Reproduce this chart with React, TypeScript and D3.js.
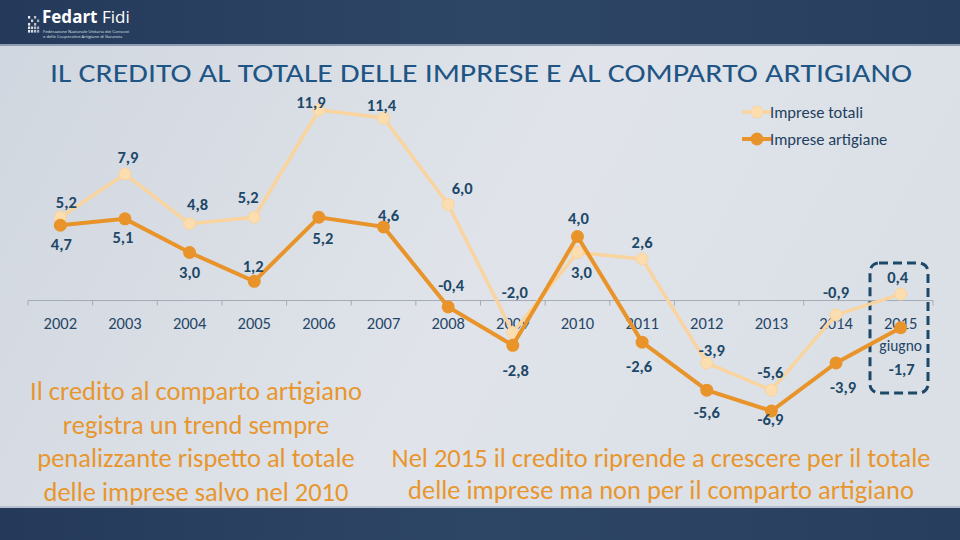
import React from "react";
import * as d3 from "d3";

const years = ["2002","2003","2004","2005","2006","2007","2008","2009","2010","2011","2012","2013","2014","2015"];
const totali = [5.2, 7.9, 4.8, 5.2, 11.9, 11.4, 6.0, -2.0, 3.0, 2.6, -3.9, -5.6, -0.9, 0.4];
const artigiane = [4.7, 5.1, 3.0, 1.2, 5.2, 4.6, -0.4, -2.8, 4.0, -2.6, -5.6, -6.9, -3.9, -1.7];
const seriesNames = ["Imprese totali", "Imprese artigiane"];
const title = "IL CREDITO AL TOTALE DELLE IMPRESE E AL COMPARTO ARTIGIANO";
const leftNote = ["Il credito al comparto artigiano", "registra un trend sempre", "penalizzante rispetto al totale", "delle imprese salvo nel 2010"];
const rightNote = ["Nel 2015 il credito riprende a crescere per il totale", "delle imprese ma non per il comparto artigiano"];

// label placement offsets (dx, dy) relative to the point
const totOff = [[6,-15],[3,-17],[8,-20],[-6,-20],[-8,-8],[-2,-13],[14,-16],[2,-41],[4,20],[0,-17],[5,-13],[-1,-18],[0,-23],[-3,-17]];
const artOff = [[1,19],[-2,18],[0,20],[-1,-15],[4,21],[5,-12],[3,-22],[3,25],[1,-18],[-3,24],[0,22],[-1,8],[7,24],[1,41]];

const W = 960, H = 540;
const FONT = "Carlito, Lato, 'Open Sans', sans-serif";
const LIGHT = "#F9D49E";
const LIGHT_IN = "#FBDDB0";
const ORANGE = "#E8942A";
const LABEL = "#1D4868";

const fmt = (v: number) => v.toFixed(1).replace(".", ",");

export default function App() {
  const x = d3.scalePoint<string>().domain(years).range([28, 933]).padding(0.5);
  const y = d3.scaleLinear().domain([-6.9, 11.9]).range([411, 110]);
  const step = x.step();
  const line = d3.line<number>().x((_, i) => x(years[i]) as number).y((d) => y(d));
  const y0 = y(0);
  const bounds = d3.range(years.length + 1).map((i) => 28 + i * step);

  return (
    <svg width={W} height={H} style={{ position: "absolute", left: 0, top: 0 }} fontFamily={FONT}>
      <defs>
        <linearGradient id="bg" x1="0" y1="0" x2="1" y2="0.3">
          <stop offset="0" stopColor="#D0D6DF" />
          <stop offset="0.6" stopColor="#E0E4EA" />
          <stop offset="1" stopColor="#DBE0E7" />
        </linearGradient>
        <linearGradient id="band" x1="0" y1="0" x2="1" y2="0">
          <stop offset="0" stopColor="#253A5A" />
          <stop offset="0.5" stopColor="#2E4666" />
          <stop offset="1" stopColor="#283E5E" />
        </linearGradient>
      </defs>
      <rect width={W} height={H} fill="url(#bg)" />
      {/* header */}
      <rect x={0} y={0} width={W} height={44} fill="url(#band)" />
      <rect x={0} y={44} width={W} height={2} fill="#8E9BB0" />
      <g fill="#FFFFFF">
        {d3.range(5).map((r) => d3.range(4).map((c) => (
          (r + c) % 2 === 0 || r > 2 ? <rect key={`${r}-${c}`} x={28 + c * 3} y={16 + r * 3.5} width={2.2} height={2.6} opacity={0.9 - c * 0.1} /> : null
        )))}
      </g>
      <text x={42} y={23} fill="#FFFFFF" fontSize={17} fontWeight="bold" fontFamily="'Open Sans', sans-serif">Fedart <tspan fontWeight="normal">Fidi</tspan></text>
      <text x={43} y={32.5} fill="#DDE3EC" fontSize={4.2} fontFamily="'Open Sans', sans-serif">Federazione Nazionale Unitaria dei Consorzi</text>
      <text x={43} y={37.5} fill="#DDE3EC" fontSize={4.2} fontFamily="'Open Sans', sans-serif">e delle Cooperative Artigiane di Garanzia</text>
      {/* footer */}
      <rect x={0} y={508} width={W} height={32} fill="url(#band)" />
      <rect x={0} y={506} width={W} height={2} fill="#B7C0CE" />

      {/* title */}
      <text x={50} y={82} fill="#1F5585" fontSize={27} textLength={862} lengthAdjust="spacingAndGlyphs">{title}</text>

      {/* axis */}
      <line x1={28} x2={933} y1={y0} y2={y0} stroke="#A3ABB6" strokeWidth={1} />
      {bounds.map((b, i) => (
        <line key={i} x1={b} x2={b} y1={y0} y2={y0 + 5} stroke="#A3ABB6" strokeWidth={1} />
      ))}
      {years.map((yr) => (
        <text key={yr} x={x(yr)} y={y0 + 28} textAnchor="middle" fill="#264668" fontSize={16.5}>{yr}</text>
      ))}
      <text x={x("2015")} y={y0 + 50} textAnchor="middle" fill="#264668" fontSize={15.5}>giugno</text>

      {/* dashed box */}
      <rect x={870} y={263} width={58} height={130} rx={9} fill="none" stroke="#1D4868" strokeWidth={3} strokeDasharray="9,5" />

      {/* totali line */}
      <path d={line(totali) as string} fill="none" stroke={LIGHT} strokeWidth={3.5} />
      {totali.map((v, i) => (
        <circle key={i} cx={x(years[i])} cy={y(v)} r={6} fill={LIGHT_IN} stroke={LIGHT} strokeWidth={1} />
      ))}
      {/* artigiane line */}
      <path d={line(artigiane) as string} fill="none" stroke={ORANGE} strokeWidth={4} />
      {artigiane.map((v, i) => (
        <circle key={i} cx={x(years[i])} cy={y(v)} r={6.5} fill={ORANGE} />
      ))}

      {/* labels */}
      {totali.map((v, i) => (
        <text key={"t" + i} x={(x(years[i]) as number) + totOff[i][0]} y={y(v) + totOff[i][1] + 6} textAnchor="middle" fill={LABEL} fontSize={16.5} fontWeight="bold">{fmt(v)}</text>
      ))}
      {artigiane.map((v, i) => (
        <text key={"a" + i} x={(x(years[i]) as number) + artOff[i][0]} y={y(v) + artOff[i][1] + 6} textAnchor="middle" fill={LABEL} fontSize={16.5} fontWeight="bold">{fmt(v)}</text>
      ))}

      {/* legend */}
      <g>
        <line x1={742} x2={772} y1={112} y2={112} stroke={LIGHT} strokeWidth={3.5} />
        <circle cx={757} cy={112} r={6} fill={LIGHT_IN} stroke={LIGHT} />
        <text x={770} y={118} fill="#1F3F5F" fontSize={16.5}>{seriesNames[0]}</text>
        <line x1={742} x2={772} y1={139} y2={139} stroke={ORANGE} strokeWidth={4} />
        <circle cx={757} cy={139} r={6.5} fill={ORANGE} />
        <text x={770} y={145} fill="#1F3F5F" fontSize={16.5}>{seriesNames[1]}</text>
      </g>

      {/* notes */}
      {leftNote.map((t, i) => (
        <text key={"l" + i} x={196} y={400 + i * 33.7} textAnchor="middle" fill="#E8962E" fontSize={26.5}>{t}</text>
      ))}
      {rightNote.map((t, i) => (
        <text key={"r" + i} x={661} y={467 + i * 32} textAnchor="middle" fill="#E8962E" fontSize={26.5}>{t}</text>
      ))}
    </svg>
  );
}
